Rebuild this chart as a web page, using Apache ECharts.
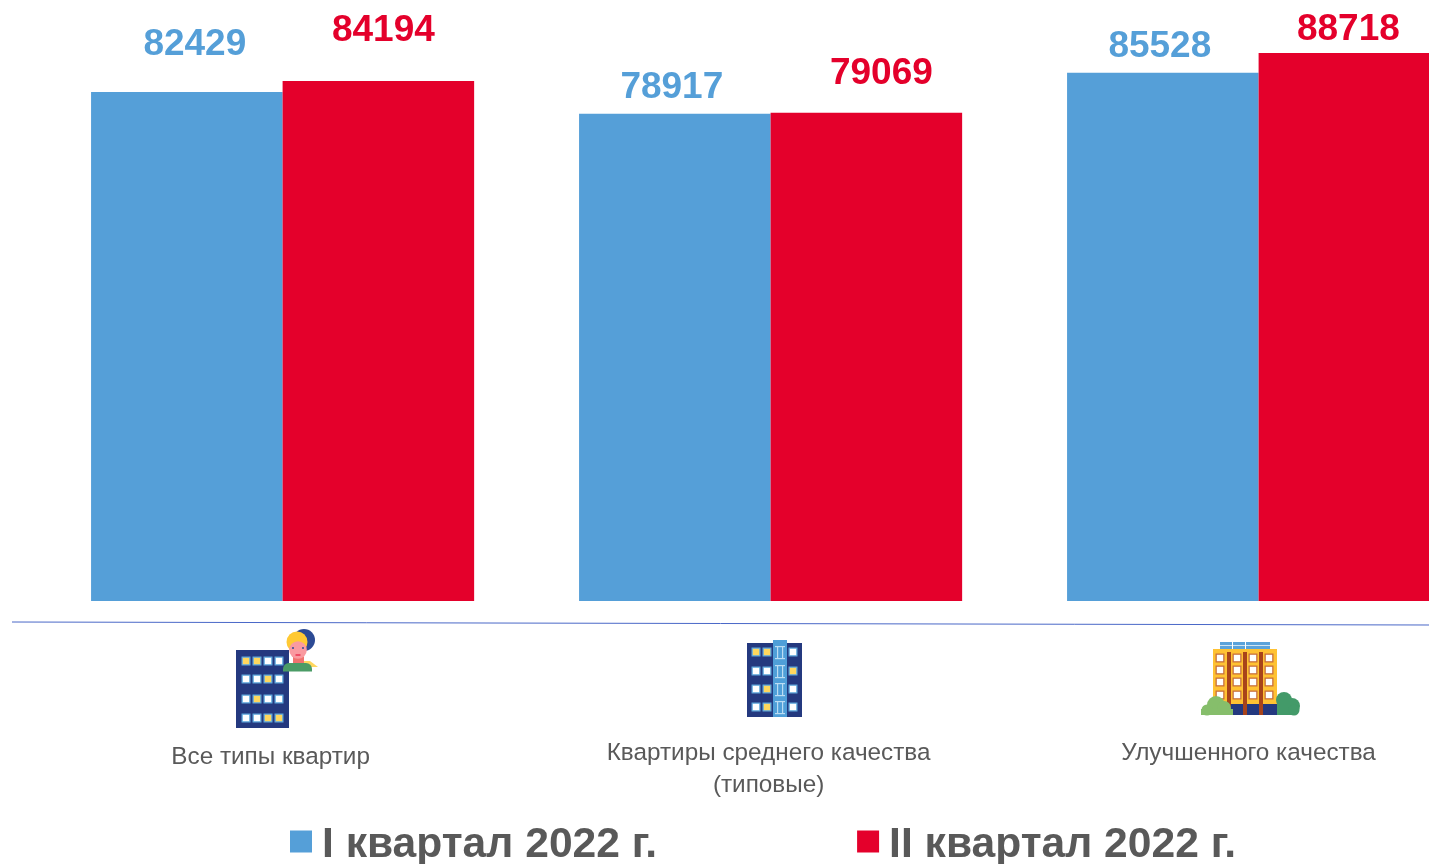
<!DOCTYPE html>
<html><head><meta charset="utf-8">
<style>html,body{margin:0;padding:0;background:#fff;overflow:hidden;width:1429px;height:864px}#c{width:1503px;height:864px}</style>
<script src="https://cdn.jsdelivr.net/npm/echarts@6/dist/echarts.min.js"></script>
</head><body><div id="c"></div>
<script>
const categories = ['Все типы квартир', 'Квартиры среднего качества\n(типовые)', 'Улучшенного качества'];
const seriesNames = ['I квартал 2022 г.', 'II квартал 2022 г.'];
const q1Values = [82429, 78917, 85528];
const q2Values = [84194, 79069, 88718];
const q1LabelOffsets = [[8, -23], [-3, -1], [-3, -2]];
const q2LabelOffsets = [[5, -26], [15, -14], [-6, 1]];
const labelShift = [12, 2, 10];
const BLUE = '#559FD8', RED = '#E4002B', GREY = '#595959', NAVY = '#24397F';

function rect(x, y, w, h, fill, r) {
  return {type: 'rect', silent: true, shape: {x, y, width: w, height: h, r: r || 0}, style: {fill}};
}
function circle(cx, cy, r, fill) {
  return {type: 'circle', silent: true, shape: {cx, cy, r}, style: {fill}};
}
function win(cx, cy, yellow, edge) {
  return [rect(cx - 4.5, cy - 4.5, 9, 9, edge), rect(cx - 3.2, cy - 3.2, 6.4, 6.4, yellow ? '#FFD75E' : '#FFFFFF')];
}
function windows(cols, rows, pattern, edge) {
  const out = [];
  rows.forEach((y, r) => cols.forEach((x, c) => out.push(...win(x, y, pattern[r][c] === 'Y', edge))));
  return out;
}
function icon1() {
  return [
    rect(236, 650, 53, 78, NAVY),
    ...windows([246, 257, 268, 279], [661, 679, 699, 718], ['YYWW', 'WWYW', 'WYWW', 'WWYY'], '#5FA8DC'),
    circle(304, 640, 11, '#2C4A94'),
    {type: 'polygon', silent: true, shape: {points: [[300, 661], [310, 661], [318, 667], [300, 667]]}, style: {fill: '#FFD75E'}},
    rect(293, 657, 11, 8, '#F0736F'),
    circle(297, 642, 10.5, '#FFC933'),
    circle(298, 650, 8.8, '#F99AA0'),
    circle(293, 648, 1, '#2C4A94'), circle(303, 648, 1, '#2C4A94'),
    rect(295.5, 654.5, 5, 1, '#E4002B'),
    rect(283, 663, 29, 8.5, '#4B9C66', [6, 6, 0, 0])
  ];
}
function icon2() {
  const strip = [];
  [652, 671, 689, 707].forEach(y => {
    strip.push(rect(775, y - 6, 10, 1.2, '#BBDDF3'), rect(775, y + 6, 10, 1.2, '#BBDDF3'),
      rect(777, y - 6, 1.2, 12, '#BBDDF3'), rect(782, y - 6, 1.2, 12, '#BBDDF3'));
  });
  return [
    rect(747, 643, 55, 74, NAVY),
    rect(773, 640, 14, 77, '#4F9FD8'),
    ...strip,
    ...windows([756, 767, 793], [652, 671, 689, 707], ['YYW', 'WWY', 'WYW', 'WYW'], '#5FA8DC')
  ];
}
function icon3() {
  const out = [];
  [1220, 1233, 1246, 1258].forEach(x => out.push(rect(x, 642, 12, 7, '#5BA3DB'), rect(x, 645, 12, 1, '#CFE5F5')));
  out.push(rect(1213, 649, 64, 56, '#FFC233'), rect(1213, 704, 64, 11, NAVY));
  [1227, 1243, 1259].forEach(x => out.push(rect(x, 652, 4, 63, '#A8441A')));
  out.push(...windows([1220, 1237, 1253, 1269], [658, 670, 682, 695],
    ['WWWW', 'WWWW', 'WWWW', 'WWWW'], '#C8703A'));
  out.push(circle(1216, 705, 9, '#86BE6B'), circle(1224, 708, 7, '#86BE6B'), circle(1207, 710, 5.5, '#86BE6B'),
    rect(1201, 709, 32, 6, '#86BE6B'));
  out.push(circle(1284, 700, 8, '#439A69'), circle(1292, 706, 8, '#439A69'), rect(1277, 700, 19, 15, '#439A69'), circle(1294, 710, 5.5, '#439A69'));
  return out;
}

const makeData = (vals, offs) => vals.map((v, i) => ({value: v, label: {offset: offs[i]}}));
const barLabel = color => ({show: true, position: 'top', distance: 6, color,
  fontFamily: 'Liberation Sans', fontWeight: 'bold', fontSize: 37});

const chart = echarts.init(document.getElementById('c'), null, {renderer: 'canvas'});
chart.setOption({
  animation: false,
  backgroundColor: '#fff',
  grid: {left: 38.6, top: 45.2, width: 1464, height: 555.8, containLabel: false},
  legend: {
    left: 285, top: 819, itemWidth: 22, itemHeight: 22, itemGap: 200, selectedMode: false,
    icon: 'rect',
    data: seriesNames,
    formatter: n => `{t|${n}}`,
    textStyle: {
      color: GREY, fontFamily: 'Liberation Sans', fontWeight: 'bold', fontSize: 42.6,
      rich: {t: {color: GREY, fontFamily: 'Liberation Sans', fontWeight: 'bold', fontSize: 42.6, padding: [8, 0, 0, 5]}}
    }
  },
  xAxis: {
    type: 'category', data: categories,
    axisLine: {show: false}, axisTick: {show: false},
    axisLabel: {
      margin: 136, interval: 0, color: GREY,
      formatter: (v, i) => v.split('\n').map(s => `{a${i}|${s}}`).join('\n'),
      rich: Object.fromEntries(labelShift.map((s, i) => ['a' + i, {
        fontFamily: 'Liberation Sans', fontSize: 24.3, lineHeight: 32, color: GREY,
        padding: [i === 0 ? 8 : 0, s * 2, 0, 0]
      }]))
    }
  },
  yAxis: {type: 'value', min: 0, max: 90000, show: false, splitLine: {show: false}},
  series: [
    {name: seriesNames[0], type: 'bar', barGap: 0, barCategoryGap: '21.5%', itemStyle: {color: BLUE},
      label: barLabel(BLUE), data: makeData(q1Values, q1LabelOffsets)},
    {name: seriesNames[1], type: 'bar', itemStyle: {color: RED},
      label: barLabel(RED), data: makeData(q2Values, q2LabelOffsets)}
  ],
  graphic: [
    {type: 'line', silent: true, shape: {x1: 12, y1: 622, x2: 1429, y2: 625}, style: {stroke: '#4A68C8', lineWidth: 1}},
    ...icon1(), ...icon2(), ...icon3()
  ]
});
</script></body></html>
